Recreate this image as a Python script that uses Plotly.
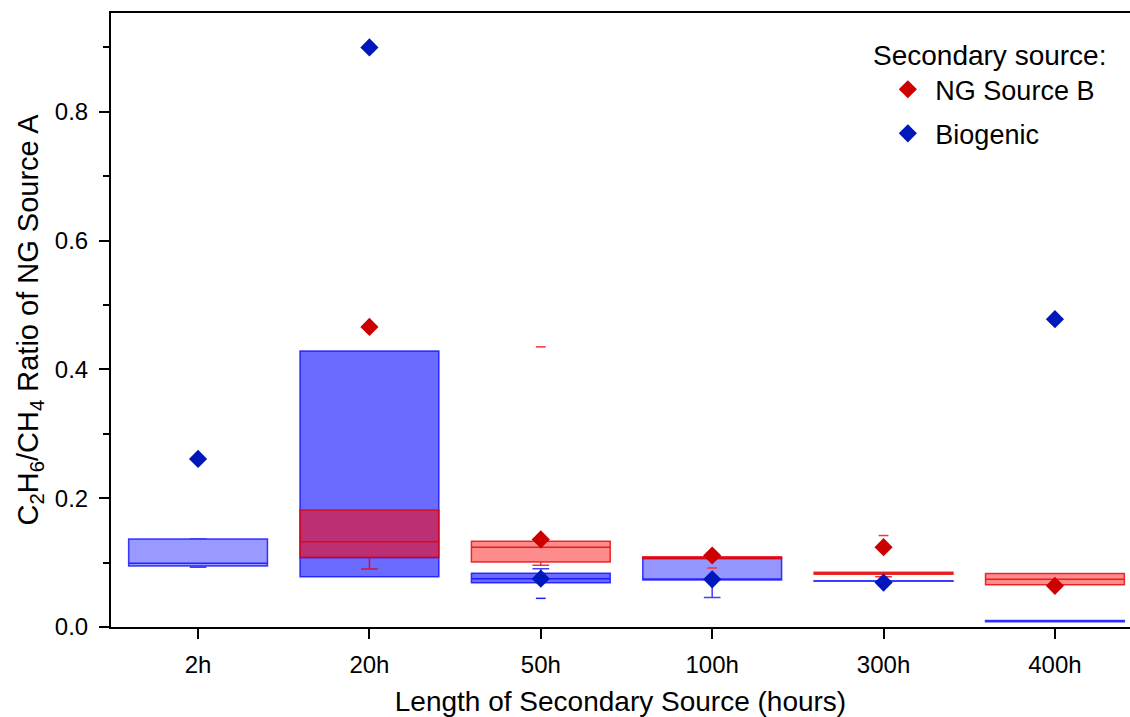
import plotly.graph_objects as go

categories = ["2h", "20h", "50h", "100h", "300h", "400h"]

# Biogenic (blue) box statistics
blue_q1 = [0.0947, 0.078, 0.0688, 0.073, 0.0710, 0.0080]
blue_med = [0.0989, 0.108, 0.0750, 0.073, 0.0714, 0.0090]
blue_q3 = [0.1366, 0.4286, 0.0833, 0.107, 0.0720, 0.0100]
blue_lo = [0.0927, 0.078, 0.0688, 0.046, 0.0710, 0.0080]
blue_hi = [0.1370, 0.4286, 0.0905, 0.107, 0.0720, 0.0100]
blue_mean = [0.261, 0.900, 0.075, 0.074, 0.069, 0.478]
blue_extra_x = ["50h"]
blue_extra_y = [0.0445]

# NG Source B (red) box statistics
red_cats = ["20h", "50h", "100h", "300h", "400h"]
red_q1 = [0.108, 0.101, 0.106, 0.082, 0.0657]
red_med = [0.1325, 0.1237, 0.107, 0.0835, 0.074]
red_q3 = [0.1817, 0.133, 0.109, 0.085, 0.083]
red_lo = [0.090, 0.096, 0.106, 0.078, 0.0657]
red_hi = [0.1817, 0.133, 0.109, 0.085, 0.083]
red_mean = [None, 0.466, 0.136, 0.111, 0.124, 0.064]
red_extra_x = ["50h", "100h", "300h"]
red_extra_y = [0.435, 0.0916, 0.142]

blue_alpha = [0.40, 0.58, 0.58, 0.41, 0.45, 0.45]
red_alpha = [0.55, 0.45, 0.5, 0.5, 0.45]

fig = go.Figure()

for i, c in enumerate(categories):
    fig.add_trace(go.Box(
        x=[c], q1=[blue_q1[i]], median=[blue_med[i]], q3=[blue_q3[i]],
        lowerfence=[blue_lo[i]], upperfence=[blue_hi[i]],
        fillcolor=f"rgba(0,0,255,{blue_alpha[i]})",
        line=dict(color="rgba(0,0,255,0.75)", width=1.5),
        width=0.81, whiskerwidth=0.12, showlegend=False, hoverinfo="skip",
        boxpoints=False,
    ))

for i, c in enumerate(red_cats):
    fig.add_trace(go.Box(
        x=[c], q1=[red_q1[i]], median=[red_med[i]], q3=[red_q3[i]],
        lowerfence=[red_lo[i]], upperfence=[red_hi[i]],
        fillcolor=f"rgba(255,0,0,{red_alpha[i]})",
        line=dict(color="rgba(230,0,0,0.8)", width=1.5),
        width=0.81, whiskerwidth=0.12, showlegend=False, hoverinfo="skip",
        boxpoints=False,
    ))

fig.add_trace(go.Scatter(
    x=blue_extra_x, y=blue_extra_y, mode="markers", showlegend=False,
    marker=dict(symbol="line-ew", size=7, line=dict(color="#2020ff", width=1.5)),
))
fig.add_trace(go.Scatter(
    x=red_extra_x, y=red_extra_y, mode="markers", showlegend=False,
    marker=dict(symbol="line-ew", size=7, line=dict(color="#ff3030", width=1.5)),
))

fig.add_trace(go.Scatter(
    x=categories, y=red_mean, mode="markers", name="NG Source B",
    legendgroup="a",
    marker=dict(symbol="diamond", size=14, color="#cc0000"),
))
fig.add_trace(go.Scatter(
    x=categories, y=blue_mean, mode="markers", name="Biogenic",
    legendgroup="b",
    marker=dict(symbol="diamond", size=14, color="#0018bb"),
))

fig.add_annotation(
    text="Secondary source:", xref="paper", yref="paper",
    x=(871 - 111) / 1019, y=1 - (55 - 13) / 614, xanchor="left", yanchor="middle",
    showarrow=False, font=dict(size=28, color="black"),
)

fig.update_layout(
    width=1130, height=717,
    margin=dict(l=111, r=0, t=13, b=90),
    paper_bgcolor="white", plot_bgcolor="white",
    font=dict(family="Liberation Sans, Arial", size=24, color="black"),
    boxmode="overlay",
    showlegend=True,
    legend=dict(
        font=dict(size=27),
        x=0.755, y=0.915, xanchor="left", yanchor="top",
        bgcolor="rgba(0,0,0,0)", tracegroupgap=6,
        itemwidth=45,
    ),
    xaxis=dict(
        type="category", categoryorder="array", categoryarray=categories,
        range=[-0.508, 5.438],
        showline=True, linecolor="black", linewidth=2, mirror=True,
        ticks="outside", ticklen=10, tickwidth=2, tickcolor="black",
        ticklabelstandoff=5,
        showgrid=False, zeroline=False,
        tickfont=dict(size=24),
        title=dict(text="Length of Secondary Source (hours)", font=dict(size=28), standoff=19),
    ),
    yaxis=dict(
        range=[0, 0.9534],
        tickvals=[0.0, 0.2, 0.4, 0.6, 0.8],
        ticktext=["0.0", "0.2", "0.4", "0.6", "0.8"],
        showline=True, linecolor="black", linewidth=2, mirror=False,
        ticks="outside", ticklen=10, tickwidth=2, tickcolor="black",
        ticklabelstandoff=6,
        minor=dict(tickvals=[0.1, 0.3, 0.5, 0.7, 0.9], ticks="outside", ticklen=6, tickwidth=2, tickcolor="black"),
        showgrid=False, zeroline=False,
        tickfont=dict(size=24),
        title=dict(text="C<sub>2</sub>H<sub>6</sub>/CH<sub>4</sub> Ratio of NG Source A", font=dict(size=29), standoff=8),
    ),
)

fig.write_html("out.html")
